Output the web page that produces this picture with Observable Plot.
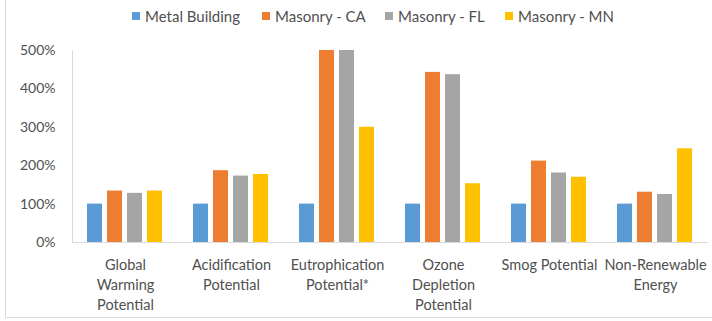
<!DOCTYPE html>
<html>
<head>
<meta charset="utf-8">
<script src="https://cdn.jsdelivr.net/npm/d3@7"></script>
<script src="https://cdn.jsdelivr.net/npm/@observablehq/plot@0.6"></script>
<style>
  html, body { margin: 0; padding: 0; background: #fff; }
  #wrap { position: relative; width: 712px; height: 321px; overflow: hidden; font-family: Lato, "Liberation Sans", sans-serif; }
  #border { position: absolute; left: 5px; top: -2px; width: 720px; height: 319px; border-left: 1px solid #d9d9d9; border-bottom: 1px solid #d9d9d9; }
  #legend { position: absolute; left: 0; top: 7px; width: 712px; height: 18px; font-size: 15px; color: #505050; line-height: 18px; }
  #legend .item { position: absolute; top: 0; display: flex; align-items: center; white-space: nowrap; }
  #legend .sw { width: 8px; height: 8px; margin-right: 5px; }
  #chart { position: absolute; left: 0; top: 30px; }
</style>
</head>
<body>
<div id="wrap">
  <div id="border"></div>
  <div id="legend"></div>
  <div id="chart"></div>
</div>
<script>
const categories = [
  "Global\nWarming\nPotential",
  "Acidification\nPotential",
  "Eutrophication\nPotential*",
  "Ozone\nDepletion\nPotential",
  "Smog Potential",
  "Non-Renewable\nEnergy"
];
const series = ["Metal Building", "Masonry - CA", "Masonry - FL", "Masonry - MN"];
const metalBuilding = [1.00, 1.00, 1.00, 1.00, 1.00, 1.00];
const masonryCA     = [1.34, 1.87, 5.00, 4.43, 2.12, 1.31];
const masonryFL     = [1.28, 1.73, 5.00, 4.37, 1.81, 1.25];
const masonryMN     = [1.34, 1.77, 3.00, 1.53, 1.70, 2.44];
const yTicks = [0, 1, 2, 3, 4, 5];
const colors = ["#5B9BD5", "#ED7D31", "#A5A5A5", "#FFC000"];

const valuesBySeries = [metalBuilding, masonryCA, masonryFL, masonryMN];
const data = [];
categories.forEach((c, i) => {
  series.forEach((s, j) => data.push({cat: c, series: s, value: valuesBySeries[j][i]}));
});

// legend (item left positions are layout)
const legendLeft = [132, 262, 385, 505];
const legend = document.getElementById("legend");
series.forEach((s, j) => {
  const it = document.createElement("div");
  it.className = "item";
  it.style.left = legendLeft[j] + "px";
  const sw = document.createElement("div");
  sw.className = "sw";
  sw.style.background = colors[j];
  const t = document.createElement("span");
  t.textContent = s;
  it.appendChild(sw); it.appendChild(t);
  legend.appendChild(it);
});

const fmt = d => `${Math.round(d * 100)}%`;

const chart = Plot.plot({
  width: 712,
  height: 291,
  marginLeft: 70,
  marginRight: 2,
  marginTop: 20,
  marginBottom: 79,
  style: {fontFamily: "Lato, 'Liberation Sans', sans-serif", fontSize: "14px", color: "#505050", background: "transparent", overflow: "visible"},
  fx: {domain: categories, padding: 0, label: null},
  x: {domain: series, paddingInner: 0.24, paddingOuter: 0.7, axis: null},
  y: {domain: [0, 5], label: null},
  color: {domain: series, range: colors},
  marks: [
    Plot.axisY({ticks: yTicks, tickSize: 0, tickPadding: 17, tickFormat: fmt, fontSize: 14, label: null}),
    Plot.axisFx({anchor: "bottom", tickSize: 0, tickPadding: 13, lineHeight: 1.38, label: null, fontSize: 14.5}),
    Plot.barY(data, {fx: "cat", x: "series", y: "value", fill: "series"}),
    Plot.ruleY([0], {stroke: "#d9d9d9", strokeWidth: 1.2}),
    Plot.frame({anchor: "left", stroke: "#d9d9d9", facet: "super"})
  ]
});
document.getElementById("chart").appendChild(chart);
</script>
</body>
</html>
